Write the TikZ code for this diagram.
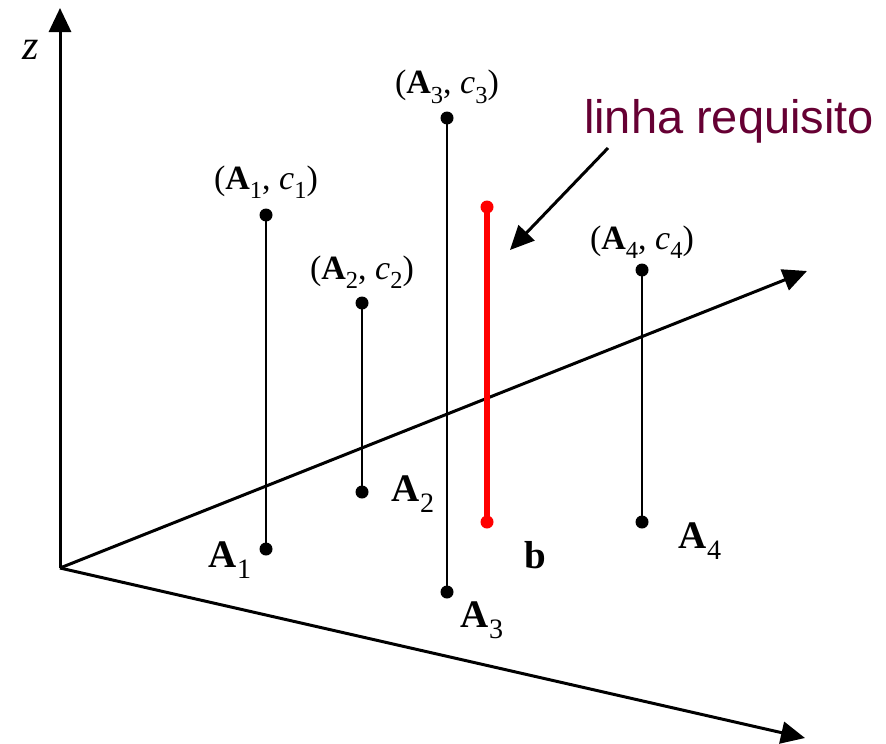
\documentclass[tikz,border=0pt]{standalone}
\usepackage{fontspec}
\setmainfont{Liberation Serif}
\newfontfamily\labelsans{Liberation Sans}
\usetikzlibrary{arrows.meta}
\definecolor{maroon}{RGB}{102,0,51}
\newcommand{\sbs}[1]{\raisebox{-0.28em}{\scalebox{0.72}{#1}}}
\tikzset{
  axis/.style={line width=3pt,-{Triangle[length=24pt,width=22pt]}},
  stem/.style={line width=2.7pt},
  reqline/.style={line width=5.5pt,red},
  dot/.style={circle,fill=black,inner sep=0pt,minimum size=13pt},
  rdot/.style={circle,fill=red,inner sep=0pt,minimum size=13pt},
  toplab/.style={font=\fontsize{34}{40}\selectfont,inner sep=0pt},
  botlab/.style={font=\fontsize{39}{45}\selectfont,inner sep=0pt},
}
\begin{document}
\begin{tikzpicture}[x=1pt,y=-1pt]
\useasboundingbox (0,0) rectangle (886,744);
% axes
\coordinate (O) at (60,568);
\coordinate (Z) at (60,8);
\coordinate (Y) at (807,271);
\coordinate (X) at (805,738);
\draw[axis] (O) -- (Z);
\draw[axis] (O) -- (Y);
\draw[axis] (O) -- (X);
\node[font=\fontsize{42}{48}\selectfont\itshape,inner sep=0pt] (zl) at (31,50) {z};
% points
\node[dot] (a1b) at (266,549) {};
\node[dot] (a1t) at (266,215) {};
\node[dot] (a2b) at (362,492) {};
\node[dot] (a2t) at (362,303) {};
\node[dot] (a3b) at (447,592) {};
\node[dot] (a3t) at (447,118) {};
\node[dot] (a4b) at (642,522) {};
\node[dot] (a4t) at (642,270) {};
\node[rdot] (bb) at (487,522) {};
\node[rdot] (bt) at (487,207) {};
\draw[stem] (a1b.center) -- (a1t.center);
\draw[stem] (a2b.center) -- (a2t.center);
\draw[stem] (a3b.center) -- (a3t.center);
\draw[stem] (a4b.center) -- (a4t.center);
\draw[reqline] (bb.center) -- (bt.center);
% labels
\node[toplab] (l1) at (266,182) {(\textbf{A}\sbs{1}, \textit{c}\sbs{1})};
\node[toplab] (l2) at (362,272) {(\textbf{A}\sbs{2}, \textit{c}\sbs{2})};
\node[toplab] (l3) at (447,87) {(\textbf{A}\sbs{3}, \textit{c}\sbs{3})};
\node[toplab] (l4) at (642,242) {(\textbf{A}\sbs{4}, \textit{c}\sbs{4})};
\node[botlab] (b1) at (230,560) {\textbf{A}\sbs{1}};
\node[botlab] (b2) at (413,494) {\textbf{A}\sbs{2}};
\node[botlab] (b3) at (482,620) {\textbf{A}\sbs{3}};
\node[botlab] (b4) at (700,541) {\textbf{A}\sbs{4}};
\node[botlab] (bl) at (535,555) {\textbf{b}};
\node[font=\labelsans\fontsize{47}{54}\selectfont,text=maroon,inner sep=0pt] (req) at (729,121) {linha requisito};
\coordinate (reqs) at (608,148);
\coordinate (reqe) at (510,250);
\draw[line width=3pt,-{Triangle[length=24pt,width=22pt]}] (reqs) -- (reqe);
\end{tikzpicture}
\end{document}
